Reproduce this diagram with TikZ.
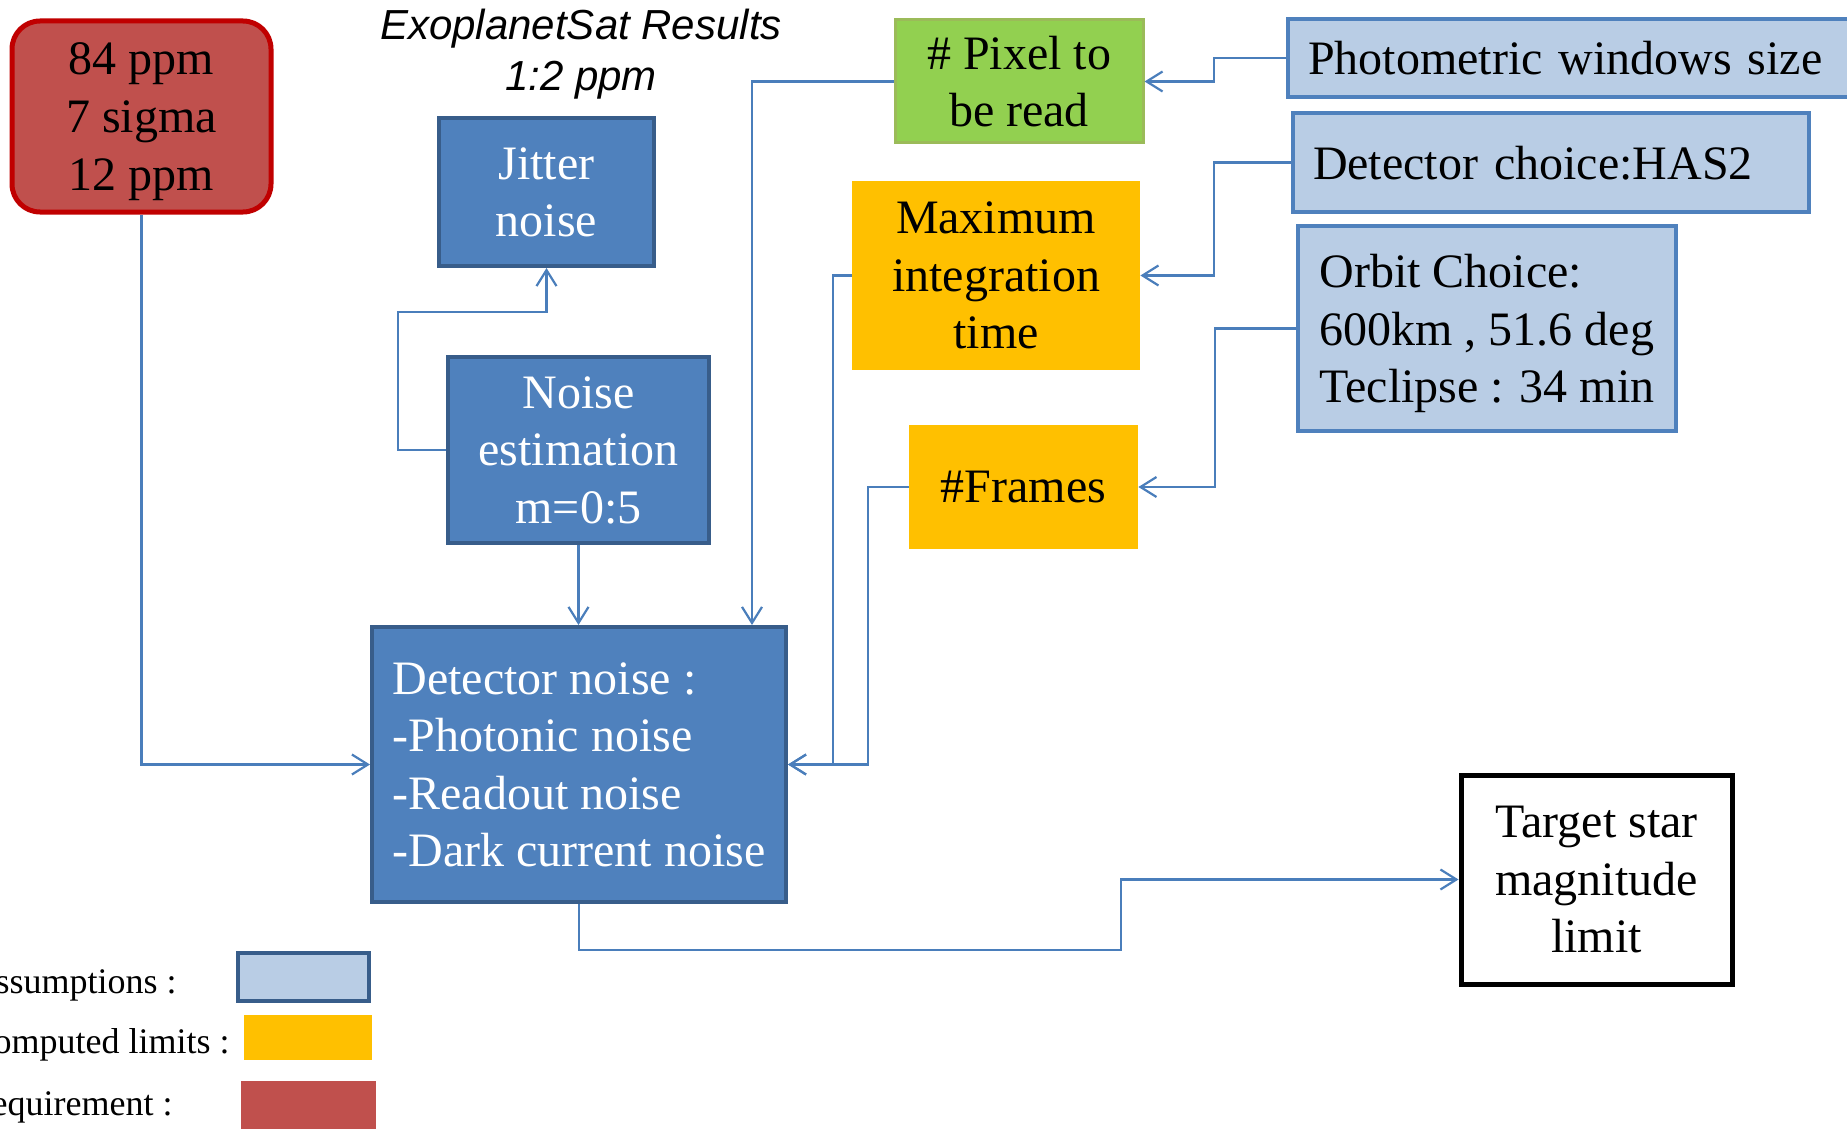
\documentclass[tikz,border=0pt]{standalone}
\usepackage{fontspec}
\setmainfont{Liberation Serif}
\newfontfamily\titlefont{Liberation Sans}
\usetikzlibrary{arrows.meta,calc}

\definecolor{boxblue}{HTML}{4F81BD}
\definecolor{boxblueline}{HTML}{385D8A}
\definecolor{paleblue}{HTML}{B9CDE5}
\definecolor{limitorange}{HTML}{FFC000}
\definecolor{pixgreen}{HTML}{92D050}
\definecolor{pixgreenline}{HTML}{9BBB59}
\definecolor{reqred}{HTML}{C0504D}
\definecolor{reqredline}{HTML}{C00000}
\definecolor{linkblue}{HTML}{4A7EBB}

\tikzset{
  txt/.style={font=\fontsize{24}{28.8}\selectfont, inner sep=0pt, text depth=0pt},
  noisebox/.style={txt, fill=boxblue, draw=boxblueline, line width=2pt, text=white, align=center},
  assumbox/.style={txt, fill=paleblue, draw=boxblue, line width=2pt, align=left, inner xsep=10pt},
  limitbox/.style={txt, fill=limitorange, align=center},
  reqbox/.style={txt, fill=reqred, draw=reqredline, line width=2.5pt, rounded corners=14pt, align=center},
  legendtxt/.style={font=\fontsize{18}{21}\selectfont, inner sep=0pt, anchor=east},
  link/.style={draw=linkblue, line width=1.1pt, -{Straight Barb[length=8pt,width=10pt]}},
}

\begin{document}
\begin{tikzpicture}[x=0.5pt,y=-0.5pt]
  \useasboundingbox (0,0) rectangle (1847,1129);
  \clip (0,0) rectangle (1847,1129);

  % title
  \node[font=\titlefont\itshape\fontsize{21}{25.5}\selectfont, align=center, inner sep=0pt] (title) at (581,54) {ExoplanetSat Results\\1:2 ppm};

  % requirement
  \node[reqbox, minimum width=129.5pt, minimum height=95.5pt] (req) at (141.5,116.5) {84 ppm\\7 sigma\\12 ppm};

  % noise boxes
  \node[noisebox, minimum width=107.5pt, minimum height=74pt] (jit) at (546.5,192) {Jitter\\noise};
  \node[noisebox, minimum width=130.5pt, minimum height=93pt] (est) at (578.5,450) {Noise\\estimation\\m=0:5};
  \node[noisebox, align=left, minimum width=207pt, minimum height=137.5pt] (det) at (579,764.5)
    {Detector noise :\\-Photonic noise\\-Readout noise\\-Dark current noise};

  % computed limits
  \node[txt, fill=pixgreen, draw=pixgreenline, line width=1.5pt, align=center, minimum width=124pt, minimum height=61.5pt] (pix) at (1019,81.5) {\# Pixel to\\be read};
  \node[limitbox, minimum width=144pt, minimum height=94.5pt] (tint) at (996,275.5) {Maximum\\integration\\time};
  \node[limitbox, minimum width=114.5pt, minimum height=62pt] (frm) at (1023.5,487) {\#Frames};

  % assumptions
  \node[assumbox, anchor=west, text width=280pt, minimum height=39pt] (pho) at (1286,58) {Photometric windows size};
  \node[assumbox, text width=238pt, minimum height=49.5pt] (dch) at (1551,162.5) {Detector choice:HAS2};
  \node[assumbox, inner xsep=0pt, minimum width=189pt, minimum height=102.5pt] (orb) at (1487,328.5) {Orbit Choice:\\600km , 51.6 deg\\Teclipse : 34 min};

  % result
  \node[txt, draw=black, line width=2.5pt, align=center, minimum width=135.5pt, minimum height=104.5pt, text depth=-5pt] (tgt) at (1596.5,879.5) {Target star\\magnitude\\limit};

  % connectors
  \draw[link] (req.south) |- (det.west);
  \draw[link] (est.west) -| +(-48,-138) -| (jit.south);
  \draw[link] (est.south) -- (est.south |- det.north);
  \draw[link] (pix.west) -| ($(det.north)+(173,0)$);
  \draw[link] (pho.west) -- ++(-72,0) |- (pix.east);
  \draw[link] (dch.west) -- ++(-77,0) |- (tint.east);
  \draw[link] (orb.west) -- ++(-81,0) |- (frm.east);
  \draw[link] (tint.west) -- ++(-19,0) |- (det.east);
  \draw[link] (frm.west) -- ++(-41,0) |- (det.east);
  \draw[link] (det.south) |- ++(542,46) |- (tgt.west);

  % legend
  \node[legendtxt] (lasm) at (177,985) {Assumptions :};
  \node[legendtxt] (lcmp) at (230,1045) {Computed limits :};
  \node[legendtxt] (lreq) at (173,1107) {Requirement :};
  \node[fill=paleblue, draw=boxblueline, line width=2pt, minimum width=65.5pt, minimum height=24pt] (kasm) at (303.5,977) {};
  \node[fill=limitorange, minimum width=64pt, minimum height=22.5pt] (kcmp) at (308,1037.5) {};
  \node[fill=reqred, minimum width=67.5pt, minimum height=29.5pt] (kreq) at (308.5,1110) {};
\end{tikzpicture}
\end{document}
